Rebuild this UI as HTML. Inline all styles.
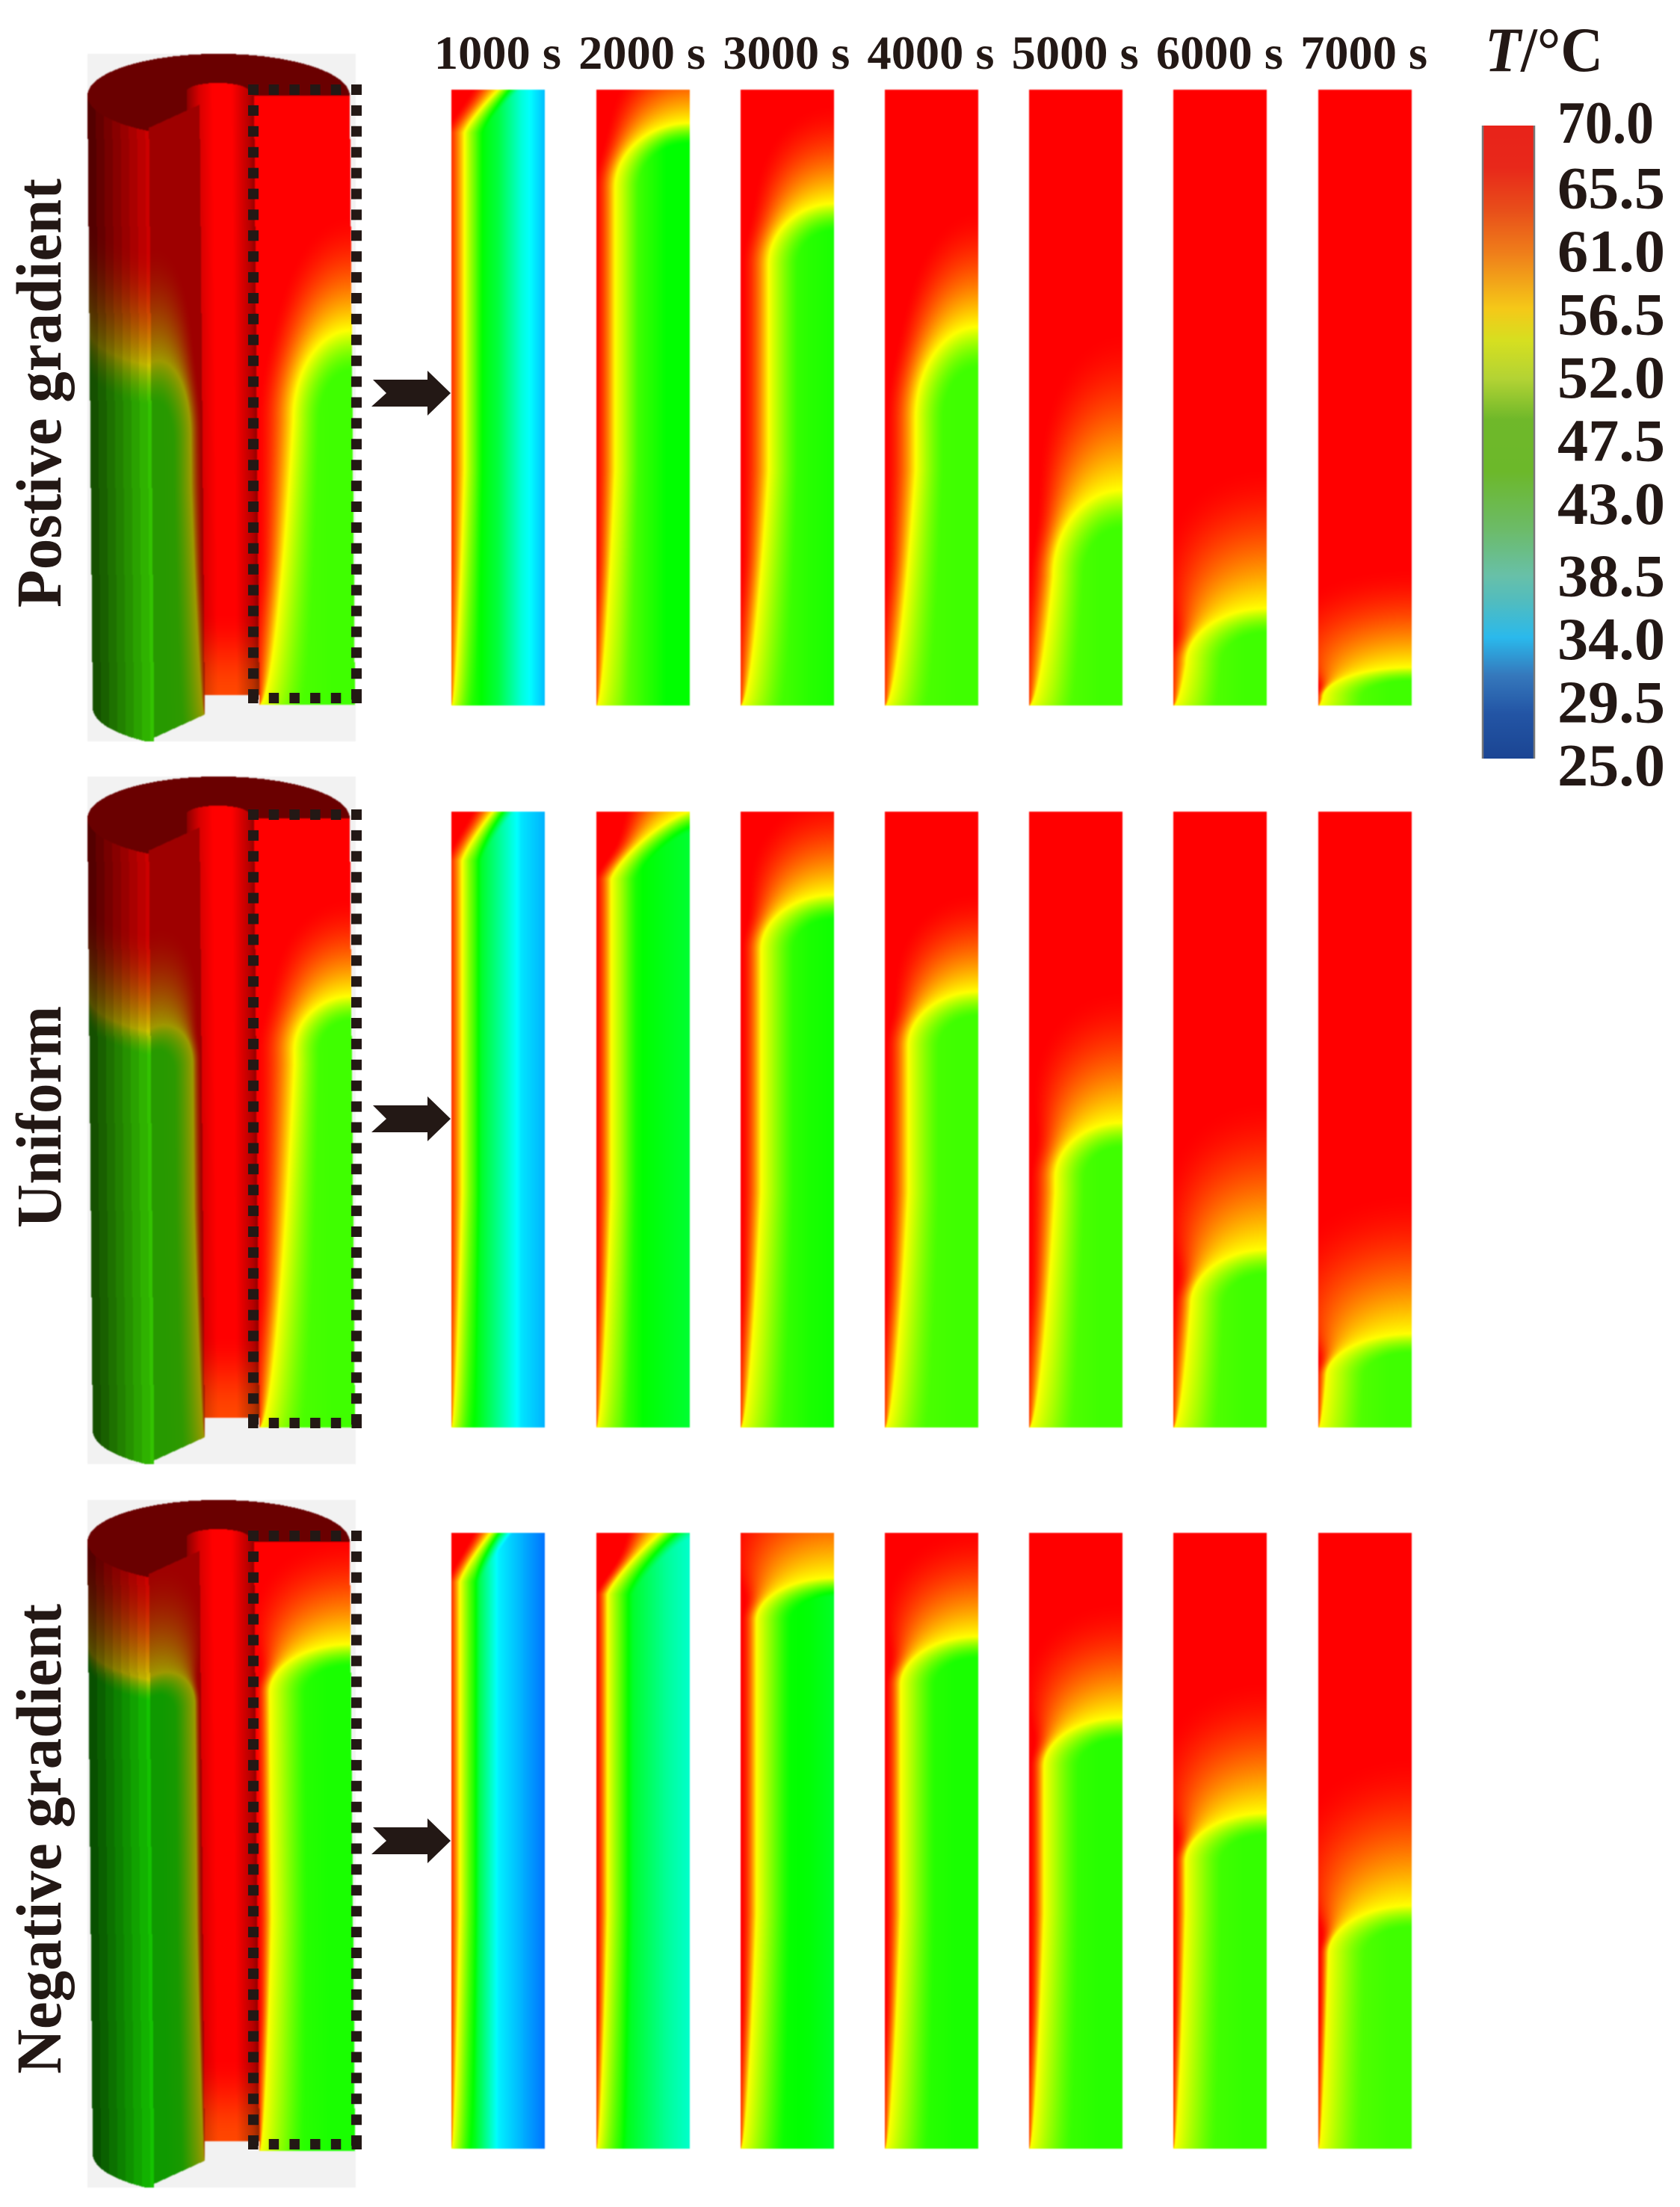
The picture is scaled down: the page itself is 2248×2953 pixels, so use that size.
<!DOCTYPE html>
<html lang="en">
<head>
<meta charset="utf-8">
<title>Temperature fields for three gradient configurations</title>
<style>
html,body{margin:0;padding:0;background:#fff;}
#stage{position:relative;width:2248px;height:2953px;overflow:hidden;background:#fff;}
#stage canvas{position:absolute;filter:blur(0.8px);}
#overlay{position:absolute;left:0;top:0;}
#overlay text{font-family:"Liberation Serif",serif;font-weight:bold;fill:#231815;}
</style>
</head>
<body>
<div id="stage">
<svg id="overlay" width="2248" height="2953" viewBox="0 0 2248 2953">
  <defs><linearGradient id="barGradient" x1="0" y1="0" x2="0" y2="1"></linearGradient></defs>
  <text x="81" y="813" transform="rotate(-90 81 813)" font-size="86" textLength="574" lengthAdjust="spacingAndGlyphs">Postive gradient</text>
  <text x="81" y="1643" transform="rotate(-90 81 1643)" font-size="86" textLength="297" lengthAdjust="spacingAndGlyphs">Uniform</text>
  <text x="81" y="2775" transform="rotate(-90 81 2775)" font-size="86" textLength="629" lengthAdjust="spacingAndGlyphs">Negative gradient</text>
  <text x="1987" y="95" font-size="85" textLength="158" lengthAdjust="spacingAndGlyphs"><tspan font-style="italic">T</tspan>/°C</text>
</svg>
</div>
<script>
// ---- Chart data ----
const timeLabels = ["1000 s","2000 s","3000 s","4000 s","5000 s","6000 s","7000 s"];
const rowKeys = ["positive","uniform","negative"];

// Depth (fraction of height) where the thermocline meets the outer wall
const frontDepth = [
  [-0.059,0.054,0.185,0.385,0.650,0.842,0.938],
  [-0.083,0.000,0.135,0.292,0.505,0.711,0.848],
  [-0.086,-0.033,0.073,0.168,0.300,0.455,0.605]
];
// Vertical extent of the rounded knee of the thermocline
const kneeBend = [
  [0.129,0.106,0.10,0.15,0.14,0.09,0.05],
  [0.163,0.11,0.09,0.09,0.09,0.09,0.07],
  [0.166,0.133,0.07,0.08,0.08,0.08,0.08]
];
// Thickness of the hot layer on the heated wall
const wallLayer = [
  [0.14,0.20,0.30,0.33,0.36,0.36,0.33],
  [0.115,0.16,0.22,0.25,0.28,0.27,0.20],
  [0.09,0.12,0.17,0.17,0.16,0.13,0.12]
];
// Height over which the charged zone rises from contour to full temperature
const hotSpread = [
  [0.10,0.10,0.12,0.14,0.19,0.17,0.12],
  [0.10,0.10,0.12,0.12,0.16,0.18,0.17],
  [0.10,0.10,0.146,0.13,0.14,0.16,0.18]
];
// Squareness of the thermocline knee
const kneePower = [
  [1.2,2,2,2,2,2,2],
  [1.2,1.3,2,2,2,2,2],
  [1.2,1.2,2,2,2,2,2]
];
// Core temperature (°C) across the radius, five samples inner → outer
const coreTemp = [
  [[48.6,48.6,44.7,37.9,33.4],[53.1,52.6,49.8,47.5,47.5],[50.9,50.9,50.3,49.2,48.6],[50.9,50.9,50.7,50.3,50.3],[52.0,52.0,50.9,50.3,50.3],[52.0,52.0,50.9,50.3,50.3],[52.0,52.0,50.9,50.3,50.3]],
  [[47.5,47.5,41.3,35.1,32.9],[50.9,50.9,47.5,46.4,45.3],[50.9,50.9,49.8,48.6,48.1],[51.4,50.9,50.7,50.3,50.3],[52.0,52.0,50.9,50.3,50.3],[52.0,52.0,50.9,50.3,50.3],[52.0,52.0,50.9,50.3,50.3]],
  [[47.5,46.4,35.7,32.9,30.1],[47.5,47.5,44.1,40.8,38.5],[49.8,49.2,47.8,47.2,45.8],[50.3,50.3,49.2,48.6,48.6],[50.3,50.3,49.8,49.2,49.2],[50.9,50.9,50.3,49.8,49.8],[51.4,51.4,50.9,50.3,50.3]]
];
// Slice on the 3D tank shows the 4000 s state with a broader wall layer
const sliceColumn = 3;
const sliceWall = [0.50,0.40,0.15];
const sliceRise = [1.16,1.33,1.7];

// Colour scale of the field plots
const fieldTemps = [70,58.75,47.5,36.25,25];
const fieldColors = [[255,0,0],[255,255,0],[0,255,0],[0,255,255],[0,0,255]];

// Colour bar
const barTemps = [70,67,64,61,57,54.7,52,49.1,45.4,41.3,38,36.1,33.6,30.9,28.2,25];
const barColors = ["#e8231a","#e8281a","#e84e1a","#ef7d1a","#f5c818","#d6df20","#b3d334","#6fb82a","#6cb82a","#6cbb68","#68c0a8","#50bcc0","#2ab9ec","#3578bc","#2355a5","#1b4593"];
const tickLabels = ["70.0","65.5","61.0","56.5","52.0","47.5","43.0","38.5","34.0","29.5","25.0"];

// ---- Layout ----
const SVGNS = "http://www.w3.org/2000/svg";
const stage = document.getElementById("stage");
const overlay = document.getElementById("overlay");
const panelLeft = 604.4, panelStep = 193.2, panelW = 125, panelH = 824;
const panelTops = [120,1086,2051];
const rowOffsets = [0,967,1935];
const arrowCenters = [526,1497,2463];
const dashTops = [120,1090,2055];

function clamp(v,a,b){return Math.max(a,Math.min(b,v));}
function smooth(a,b,v){const t=clamp((v-a)/(b-a),0,1);return t*t*(3-2*t);}

function tempToRgb(T){
  const n=fieldTemps.length;
  if(T>=fieldTemps[0])return fieldColors[0];
  for(let i=1;i<n;i++){
    if(T>=fieldTemps[i]){
      const t=(fieldTemps[i-1]-T)/(fieldTemps[i-1]-fieldTemps[i]);
      const a=fieldColors[i-1],b=fieldColors[i];
      return [a[0]+(b[0]-a[0])*t,a[1]+(b[1]-a[1])*t,a[2]+(b[2]-a[2])*t];
    }
  }
  return fieldColors[n-1];
}

function coreAt(core,x){
  const f=clamp(x,0,1)*(core.length-1);
  const i=Math.min(core.length-2,Math.floor(f));
  return core[i]+(core[i+1]-core[i])*(f-i);
}

// Temperature at (x,y), both 0..1, in the given row/time column
function fieldTemp(r,c,x,y,wallOverride,riseOverride){
  const contourT=fieldTemps[1], hotT=fieldTemps[0];
  const depth=frontDepth[r][c], bend=kneeBend[r][c];
  const wall=wallOverride!==undefined?wallOverride:wallLayer[r][c];
  const rise=riseOverride!==undefined?riseOverride:1.7;
  const pw=kneePower[r][c], spread=hotSpread[r][c];
  const knee=Math.min(0.995,depth+bend);
  const wallAt=function(v){return Math.max(0.004,Math.min(wall,rise*wall*Math.pow(Math.max(1-v,0),0.55)));};
  let xw,dy=0;
  if(y>=knee){xw=wallAt(y);}
  else{xw=wallAt(knee);dy=(knee-y)/bend;}
  const a=1-xw;
  const dx=Math.max(0,(1-x)/a);
  const e=dy>0?Math.pow(Math.pow(dx,pw)+Math.pow(dy,pw),1/pw):dx;
  if(e>=1){
    let w=dy*dy/(dx*dx+dy*dy+1e-9);w=w*w;
    const early=c===0?1.25:(c===1?0.9:0.78);
    const f=early+0.5*smooth(0.75,1,y);
    const wallScale=1.25*f*xw/a;
    const topScale=1.35*spread/bend;
    const scale=Math.max(0.004,wallScale+(topScale-wallScale)*w);
    const t=Math.min(1,(e-1)/scale);
    return hotT-(hotT-contourT)*Math.pow(1-t,1.7);
  }
  const s0=c===0?0.24:(c===1?0.32:0.45);
  const s=Math.min(1,(1-e)/s0);
  const ease=1-Math.pow(1-s,1.4);
  return contourT+(coreAt(coreTemp[r][c],x)-contourT)*ease;
}

function drawPanel(canvas,r,c){
  const ctx=canvas.getContext("2d");
  const img=ctx.createImageData(canvas.width,canvas.height);
  const d=img.data;let k=0;
  for(let py=0;py<canvas.height;py++){
    const y=(py+0.5)/canvas.height;
    for(let px=0;px<canvas.width;px++){
      const x=(px+0.5)/canvas.width;
      const rgb=tempToRgb(fieldTemp(r,c,x,y));
      d[k++]=rgb[0];d[k++]=rgb[1];d[k++]=rgb[2];d[k++]=255;
    }
  }
  ctx.putImageData(img,0,0);
}

function drawTank(canvas,r){
  const ctx=canvas.getContext("2d");
  const img=ctx.createImageData(canvas.width,canvas.height);
  const d=img.data;let k=0;
  const c=sliceColumn;
  const H=816;
  const bg=[242,242,242],cap=[106,0,0];
  function tubeColor(xs,v){
    const sh=xs<267?0.55+0.3*(xs-250)/17:(xs<285?0.85+0.15*(xs-267)/18:(xs<310?1:(xs<333?1-0.28*(xs-310)/23:0.72-0.15*(xs-333)/7)));
    const g=70*smooth(0.86,1,v);
    return [255*sh,g*sh,0];
  }
  for(let py=0;py<canvas.height;py++){
    const Y=72+py+0.5;
    const skew=7*clamp((Y-128)/816,0,1.05);
    for(let px=0;px<canvas.width;px++){
      const X=117+px+0.5;
      const xs=X-skew;
      let col=bg;
      if(xs>=117&&xs<=468){
        const t=(xs-292.5)/175.5;
        const q=56*Math.sqrt(Math.max(0,1-t*t));
        const arcUp=128-q,arcLow=128+q;
        if(Y>=arcUp){
          if(xs<199){
            if(Y<arcLow){col=cap;}
            else if(Y<arcLow+H+3){
              const v=(Y-arcLow)/H;
              const band=Math.floor((xs-117)/11)/7.4;
              const sh=0.33+0.5*band;
              const rgb=tempToRgb(fieldTemp(r,c,0.995,v));
              col=[rgb[0]*sh,rgb[1]*sh*0.95,rgb[2]*sh];
            }
          }else if(xs<267){
            const top=171-(xs-199)*31/68;
            if(Y<top){
              col=cap;
              if(xs>=250){
                const n=(xs-291.5)/41.5;
                const tt=122-11*Math.sqrt(Math.max(0,1-n*n));
                if(Y>=tt)col=tubeColor(xs,0);
              }
            }else if(Y<top+H){
              const v=(Y-top)/H;
              const rgb=tempToRgb(fieldTemp(r,c,(267-xs)/68,v,wallLayer[r][c]*0.7));
              col=[rgb[0]*0.62,rgb[1]*0.6,rgb[2]*0.6];
            }
          }else if(xs<340){
            const n=(xs-291.5)/41.5;
            const tt=Math.abs(n)<=1?122-11*Math.sqrt(1-n*n):122;
            if(Y<tt){col=cap;}
            else if(Y<930){col=tubeColor(xs,(Y-128)/802);}
          }else{
            if(Y<128){col=cap;}
            else if(Y<943){
              const rgb=tempToRgb(fieldTemp(r,c,(xs-340)/128,(Y-128)/815,sliceWall[r],sliceRise[r]));
              col=rgb;
            }
          }
        }
      }
      d[k++]=col[0];d[k++]=col[1];d[k++]=col[2];d[k++]=255;
    }
  }
  ctx.putImageData(img,0,0);
}

function addDashes(r,g){
  const t=dashTops[r], b=t+814;
  const tracks=[
    {x1:332,y1:t,x2:484,y2:t,dash:"13.5 14.2",w:14},
    {x1:332,y1:b,x2:484,y2:b,dash:"13.5 14.2",w:14},
    {x1:339,y1:t-7,x2:339,y2:b+7,dash:"14 13.9",w:14},
    {x1:477,y1:t-7,x2:477,y2:b+7,dash:"14 13.9",w:14}
  ];
  tracks.forEach(function(tk){
    const l=document.createElementNS(SVGNS,"line");
    l.setAttribute("x1",tk.x1);l.setAttribute("y1",tk.y1);
    l.setAttribute("x2",tk.x2);l.setAttribute("y2",tk.y2);
    l.setAttribute("stroke","#231815");
    l.setAttribute("stroke-width",tk.w);
    l.setAttribute("stroke-dasharray",tk.dash);
    
    
    g.appendChild(l);
  });
}

function addArrow(r,g){
  const cy=arrowCenters[r];
  const pts=[[499,cy-18],[572,cy-18],[572,cy-30],[603,cy],[572,cy+30],[572,cy+18],[497,cy+18],[517,cy]];
  const p=document.createElementNS(SVGNS,"polygon");
  p.setAttribute("points",pts.map(function(q){return q.join(",");}).join(" "));
  p.setAttribute("fill","#231815");
  
  
  g.appendChild(p);
}

// ---- Field panels and tanks ----
rowKeys.forEach(function(key,r){
  timeLabels.forEach(function(label,c){
    const cv=document.createElement("canvas");
    cv.width=panelW;cv.height=panelH;
    cv.style.left=(panelLeft+panelStep*c)+"px";
    cv.style.top=panelTops[r]+"px";
    
    
    cv.setAttribute('aria-label', key+" gradient at "+label);
    stage.insertBefore(cv,overlay);
    drawPanel(cv,r,c);
  });
  const tank=document.createElement("canvas");
  tank.width=359;tank.height=920;
  tank.style.left="117px";
  tank.style.top=(72+rowOffsets[r])+"px";
  
  
  tank.setAttribute('aria-label', key+" gradient tank");
  stage.insertBefore(tank,overlay);
  drawTank(tank,r);
  addDashes(r,overlay);
  addArrow(r,overlay);
});

// ---- Time labels ----
timeLabels.forEach(function(label,c){
  const t=document.createElementNS(SVGNS,"text");
  t.setAttribute("x",panelLeft+panelStep*c+panelW/2-1);
  t.setAttribute("y",92);
  t.setAttribute("text-anchor","middle");
  t.setAttribute("font-size",64);
  t.setAttribute("textLength",170);
  t.setAttribute("lengthAdjust","spacingAndGlyphs");
  
  
  t.textContent=label;
  overlay.appendChild(t);
});

// ---- Colour bar ----
const barTop=168, barBottom=1015, barLeft=1983, barRight=2054;
const grad=document.getElementById("barGradient");
barTemps.forEach(function(T,i){
  const s=document.createElementNS(SVGNS,"stop");
  s.setAttribute("offset",(70-T)/45);
  s.setAttribute("stop-color",barColors[i]);
  grad.appendChild(s);
});
const bar=document.createElementNS(SVGNS,"rect");
bar.setAttribute("x",barLeft);
bar.setAttribute("y",barTop);
bar.setAttribute("width",barRight-barLeft);
bar.setAttribute("height",barBottom-barTop);
bar.setAttribute("fill","url(#barGradient)");


overlay.appendChild(bar);
[barLeft+1,barRight-1].forEach(function(x){
  const l=document.createElementNS(SVGNS,"line");
  l.setAttribute("x1",x);l.setAttribute("x2",x);
  l.setAttribute("y1",barTop);l.setAttribute("y2",barBottom);
  l.setAttribute("stroke","#777");
  l.setAttribute("stroke-width",2.5);
  
  
  overlay.appendChild(l);
});
tickLabels.forEach(function(label,i){
  const t=document.createElementNS(SVGNS,"text");
  const y=166+84.5*i+(i>=7?12:0)+(i===0?25:28);
  t.setAttribute("x",2084);
  t.setAttribute("y",y);
  t.setAttribute("font-size",81);
  t.setAttribute("textLength",i===0?129:144);
  t.setAttribute("lengthAdjust","spacingAndGlyphs");
  
  
  t.textContent=label;
  overlay.appendChild(t);
});
</script>
</body>
</html>
